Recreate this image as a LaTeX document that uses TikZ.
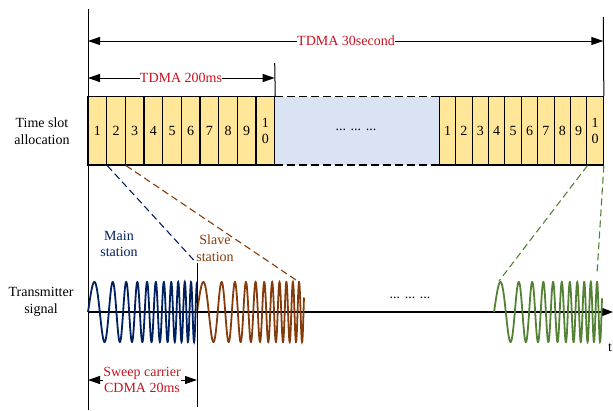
\documentclass[tikz,border=0pt]{standalone}
\usepackage{fontspec}
\setmainfont{Liberation Serif}
\usetikzlibrary{arrows.meta}
\definecolor{tred}{RGB}{200,20,30}
\definecolor{mblue}{RGB}{0,32,96}
\definecolor{sbrown}{RGB}{132,60,12}
\definecolor{sgreen}{RGB}{84,130,53}
\definecolor{slotfill}{RGB}{255,230,153}
\definecolor{gapfill}{RGB}{218,227,243}
\begin{document}
\begin{tikzpicture}[x=1pt,y=-1pt,
  every node/.style={font=\fontsize{14}{16.5}\selectfont, inner sep=0pt},
  slotbox/.style={draw=black, line width=1.1pt, fill=slotfill, minimum height=68.5pt, align=center},
  arr/.style={line width=1pt, {Triangle[length=12pt,width=8pt]}-{Triangle[length=12pt,width=8pt]}},
  redlbl/.style={text=tred, fill=white, align=center},
  wave/.style={line width=1.8pt, smooth},
  conn/.style={dashed, dash pattern=on 7pt off 4pt, line width=1.1pt}]
\useasboundingbox (0,0) rectangle (613,410);

% left slots
\foreach \i in {1,...,9}
  \node[slotbox, minimum width=18.67pt] (L\i) at ({88+18.67*(\i-0.5)},130.75) {\i};
\node[slotbox, minimum width=18.67pt] (L10) at ({88+18.67*9.5},130.75) {1\\[-1pt]0};

% gap region
\fill[gapfill] (274.7,96.5) rectangle (439.3,165);
\draw[line width=1.1pt, dash pattern=on 8pt off 4pt] (274.7,96.5) -- (439.3,96.5);
\draw[line width=1.1pt, dash pattern=on 8pt off 4pt] (274.7,165) -- (439.3,165);
\node (gapdots) at (356,130) {... ... ...};

% right slots
\foreach \i in {1,...,9}
  \node[slotbox, minimum width=16.4pt] (R\i) at ({439.3+16.4*(\i-0.5)},130.75) {\i};
\node[slotbox, minimum width=16.4pt] (R10) at ({439.3+16.4*9.5},130.75) {1\\[-1pt]0};

% vertical frame lines
\coordinate (ltop) at (88,9);
\coordinate (lbot) at (88,410);
\draw[line width=1pt] (ltop) -- (lbot);
\coordinate (rtop) at (603.3,17);
\draw[line width=1pt] (rtop) -- (R10.north east);
\coordinate (ttop) at (274.7,63);
\draw[line width=1pt] (ttop) -- (L10.north east);

% top dimension arrows
\coordinate (a30l) at (88,41);
\coordinate (a30r) at (603.3,41);
\draw[arr] (a30l) -- (a30r);
\node[redlbl] (lbl30) at (346,41) {TDMA 30second};
\coordinate (a2l) at (88,78);
\coordinate (a2r) at (274.7,78);
\draw[arr] (a2l) -- (a2r);
\node[redlbl] (lbl200) at (181,78) {TDMA 200ms};

% row labels
\node[align=center] (tsa) at (42,131) {Time slot\\allocation};
\node[align=center] (txs) at (41,302) {Transmitter\\signal};

% time axis
\coordinate (axl) at (88,312);
\coordinate (axr) at (613,312);
\draw[line width=1.3pt, -{Triangle[length=11pt,width=8pt]}] (axl) -- (axr);
\node (tlbl) at (610,348) {t};
\node (sigdots) at (410,298) {... ... ...};

% waves
\draw[wave, mblue] plot[domain=0:109, samples=600] ({88+\x},{312-30*sin(360*(0.035*\x+0.00062*\x*\x))});
\draw[wave, sbrown] plot[domain=0:107, samples=600] ({197+\x},{312-30*sin(360*(0.035*\x+0.00064*\x*\x))});
\draw[wave, sgreen] plot[domain=0:108, samples=600] ({494+\x},{312-30*sin(360*(0.035*\x+0.00063*\x*\x))});

% main-station boundary line
\coordinate (mtop) at (197,263);
\coordinate (mbot) at (197,407);
\draw[line width=1pt] (mtop) -- (mbot);

% dashed connectors
\coordinate (cb) at (195.5,262);
\coordinate (cbr) at (296,280);
\coordinate (cg1) at (499,281);
\coordinate (cg2) at (597,274);
\draw[conn, mblue] (L1.south east) -- (cb);
\draw[conn, sbrown] (L2.south east) -- (cbr);
\draw[conn, sgreen] (R9.south east) -- (cg1);
\draw[conn, sgreen] (R10.south east) -- (cg2);

% station labels
\node[text=mblue, align=center] (mst) at (119,244) {Main\\station};
\node[text=sbrown, align=center] (sst) at (215,248) {Slave\\station};

% CDMA arrow
\coordinate (cl) at (88,380);
\coordinate (cr) at (197,380);
\draw[arr] (cl) -- (cr);
\node[redlbl] (lblc) at (142,380) {Sweep carrier\\CDMA 20ms};
\end{tikzpicture}
\end{document}
